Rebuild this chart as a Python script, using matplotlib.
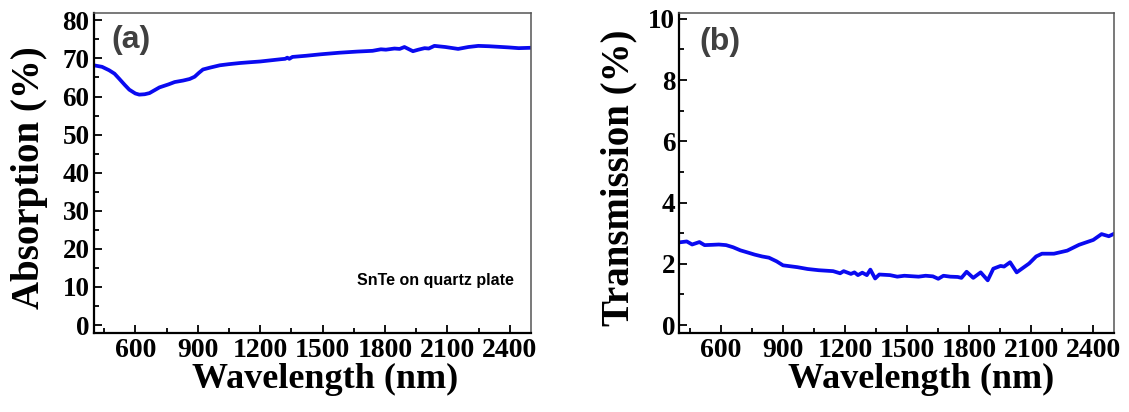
import matplotlib
matplotlib.use("Agg")
import matplotlib.pyplot as plt
from matplotlib.ticker import MultipleLocator

# Absorption spectrum, SnTe film on quartz
abs_wl = [400, 440, 474, 500, 522, 550, 571, 600, 619, 645, 668, 716, 760, 789,
          830, 861, 885, 905, 925, 960, 1006, 1050, 1103, 1150, 1200, 1250, 1300,
          1320, 1330, 1340, 1355, 1420, 1493, 1580, 1666, 1740, 1780, 1804, 1845,
          1870, 1893, 1934, 1960, 1990, 2010, 2037, 2090, 2151, 2200, 2248, 2300,
          2393, 2442, 2500]
abs_val = [68.2, 67.8, 66.9, 66.0, 64.7, 63.0, 61.8, 60.8, 60.5, 60.6, 60.9, 62.4,
           63.2, 63.8, 64.2, 64.6, 65.2, 66.2, 67.1, 67.6, 68.2, 68.5, 68.8, 69.0,
           69.2, 69.5, 69.8, 69.9, 70.2, 69.9, 70.4, 70.7, 71.1, 71.5, 71.8, 72.0,
           72.4, 72.3, 72.6, 72.5, 73.0, 71.9, 72.3, 72.7, 72.6, 73.3, 73.0, 72.5,
           73.0, 73.3, 73.2, 72.9, 72.7, 72.8]

# Transmission spectrum
tr_wl = [400, 436, 462, 497, 522, 560, 591, 626, 660, 695, 730, 764, 800, 833,
         870, 901, 970, 1020, 1074, 1143, 1177, 1194, 1229, 1246, 1263, 1284,
         1306, 1323, 1346, 1366, 1418, 1453, 1487, 1556, 1590, 1625, 1651, 1676,
         1709, 1745, 1763, 1788, 1820, 1856, 1890, 1917, 1952, 1969, 1998, 2030,
         2090, 2124, 2152, 2210, 2274, 2331, 2400, 2440, 2475, 2500]
tr_val = [2.70, 2.73, 2.63, 2.71, 2.61, 2.62, 2.63, 2.61, 2.54, 2.44, 2.37, 2.30,
          2.24, 2.20, 2.08, 1.95, 1.89, 1.83, 1.79, 1.76, 1.69, 1.76, 1.67, 1.72,
          1.63, 1.71, 1.63, 1.81, 1.52, 1.65, 1.63, 1.58, 1.61, 1.58, 1.61, 1.59,
          1.51, 1.61, 1.58, 1.57, 1.54, 1.74, 1.54, 1.72, 1.46, 1.84, 1.93, 1.91,
          2.05, 1.72, 2.01, 2.24, 2.33, 2.33, 2.43, 2.62, 2.78, 2.97, 2.90, 2.98]

serif = "Liberation Serif"
sans = "Liberation Sans"
blue = "#0a0af0"

fig = plt.figure(figsize=(11.29, 4.12), dpi=100)
ax1 = fig.add_axes([0.0830, 0.1925, 0.3871, 0.7766])
ax2 = fig.add_axes([0.6017, 0.1925, 0.3850, 0.7766])


def style(ax, ylim, ymajor, ylabel, ylabel_x, xlabel_x):
    ax.set_xlim(400, 2500)
    ax.set_ylim(*ylim)
    ax.xaxis.set_major_locator(MultipleLocator(300))
    ax.xaxis.set_minor_locator(MultipleLocator(150))
    ax.yaxis.set_major_locator(MultipleLocator(ymajor))
    ax.yaxis.set_minor_locator(MultipleLocator(ymajor / 2))
    ax.set_xticks(range(600, 2401, 300))
    ax.tick_params(which="both", direction="in", top=False, right=False,
                   width=1.3, colors="black")
    ax.tick_params(which="major", length=6)
    ax.tick_params(which="minor", length=3.5)
    ax.tick_params(axis="x", pad=4)
    ax.tick_params(axis="y", pad=3)
    for lab in ax.get_xticklabels():
        lab.set_fontfamily(serif)
        lab.set_fontweight("bold")
        lab.set_fontsize(20)
    for lab in ax.get_yticklabels():
        lab.set_fontfamily(serif)
        lab.set_fontweight("bold")
        lab.set_fontsize(19.5)
    for side in ("left", "bottom"):
        ax.spines[side].set_linewidth(1.6)
        ax.spines[side].set_color("black")
    for side in ("top", "right"):
        ax.spines[side].set_linewidth(1.1)
        ax.spines[side].set_color("#555555")
    ax.set_xlabel("Wavelength (nm)", fontfamily=serif, fontweight="bold",
                  fontsize=26)
    ax.xaxis.set_label_coords(xlabel_x, -0.095)
    ax.xaxis.label.set_va("top")
    ax.set_ylabel(ylabel, fontfamily=serif, fontweight="bold", fontsize=28)
    ax.yaxis.set_label_coords(ylabel_x, 0.485)
    ax.yaxis.label.set_va("center")


ax1.plot(abs_wl, abs_val, color=blue, lw=2.7)
style(ax1, (-2, 82), 10, "Absorption (%)", -0.148, 0.53)
ax1.text(0.04, 0.915, "(a)", transform=ax1.transAxes, fontfamily=sans,
         fontweight="bold", fontsize=23, color="#404040", va="center")
ax1.text(0.961, 0.164, "SnTe on quartz plate", transform=ax1.transAxes,
         fontfamily=sans, fontweight="bold", fontsize=11.5, ha="right",
         va="center")

ax2.plot(tr_wl, tr_val, color=blue, lw=2.7)
style(ax2, (-0.25, 10.2), 2, "Transmission (%)", -0.138, 0.557)
ax2.text(0.046, 0.91, "(b)", transform=ax2.transAxes, fontfamily=sans,
         fontweight="bold", fontsize=23, color="#404040", va="center")

fig.savefig("out.png", dpi=100)
